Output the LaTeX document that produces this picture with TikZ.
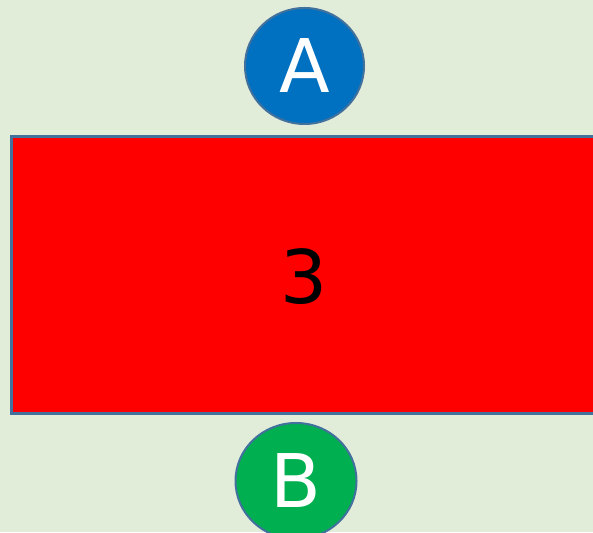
\documentclass[tikz,border=0pt]{standalone}
\usepackage{fontspec}
\setmainfont{DejaVu Sans}
\usetikzlibrary{shapes.geometric}
\definecolor{bgc}{HTML}{E2EDD9}
\definecolor{bluec}{HTML}{0070C0}
\definecolor{greenc}{HTML}{00B050}
\definecolor{edgec}{HTML}{41719C}
\tikzset{
  bigtext/.style={font=\fontsize{74}{74}\selectfont},
  disc/.style={ellipse, draw=edgec, line width=2pt, inner sep=0pt, text=white, bigtext},
  bar/.style={rectangle, draw=edgec, fill=red, line width=2.8pt, inner sep=0pt, anchor=north west}
}
\begin{document}
\begin{tikzpicture}[x=1pt,y=1pt]
\useasboundingbox (0,0) rectangle (593,532);
\clip (0,0) rectangle (593,532);
\fill[bgc] (0,0) rectangle (593,532);
\node[bar, minimum width=620pt, minimum height=277pt] (r) at (10,396.5) {};
\node[bigtext, text=black] at (304,255) (t) {3};
\node[disc, fill=bluec, minimum width=119pt, minimum height=116pt] (a) at (304.5,466) {A};
\node[disc, fill=greenc, minimum width=121pt, minimum height=116pt] (b) at (296,51) {B};
\end{tikzpicture}
\end{document}
